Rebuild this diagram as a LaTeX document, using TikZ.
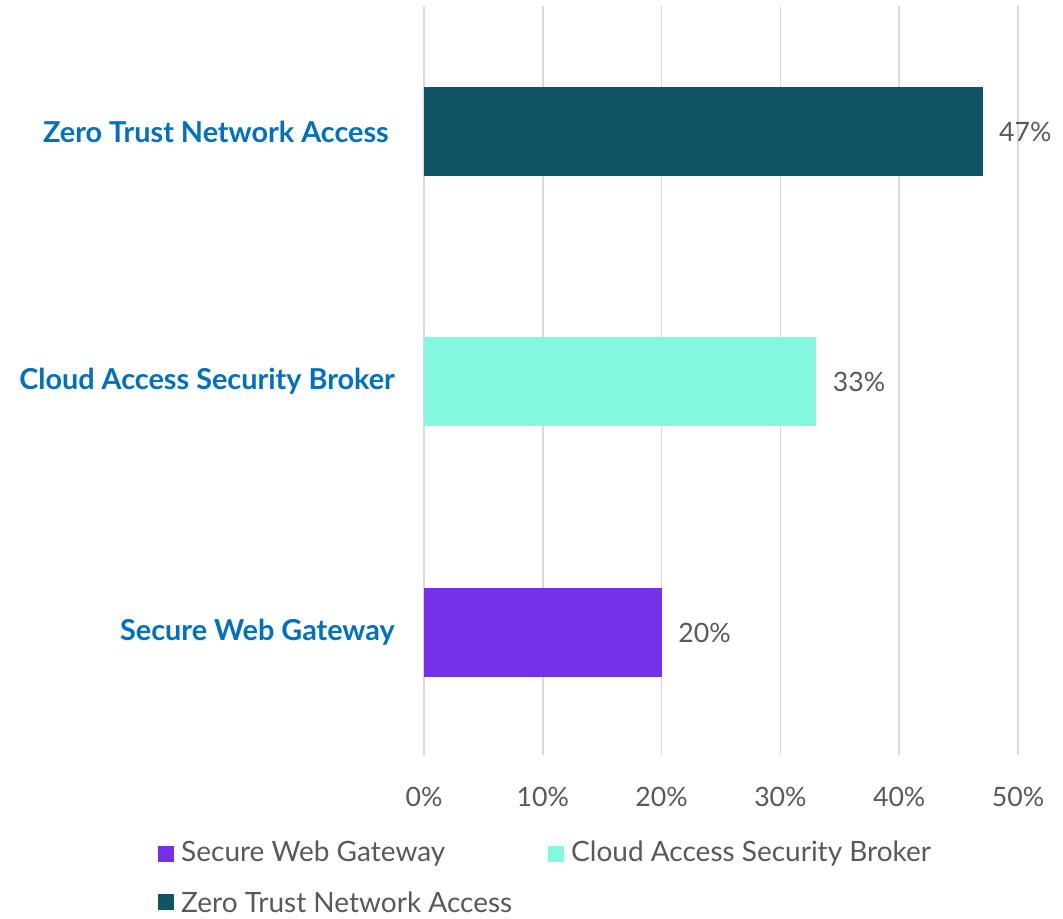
\documentclass[tikz,border=0pt]{standalone}
\usepackage{fontspec}
\setmainfont{Lato}
\usepackage{tikz}
\usetikzlibrary{positioning}
\definecolor{ztnateal}{HTML}{105566}
\definecolor{casbaqua}{HTML}{84F7E1}
\definecolor{swgpurple}{HTML}{7630EA}
\definecolor{catblue}{HTML}{0070C0}
\definecolor{gridgrey}{HTML}{D9D9D9}
\definecolor{textgrey}{HTML}{595959}

\begin{document}
\begin{tikzpicture}[
    x=0.75pt,y=-0.75pt,
    plaintext/.style={font=\fontsize{20}{24}\selectfont,text=textgrey,
      inner sep=0pt},
    keytext/.style={plaintext,font=\fontsize{21}{25}\selectfont,anchor=west},
    catlabel/.style={font=\fontsize{21.6}{25}\selectfont\bfseries,
      text=catblue,anchor=east,inner sep=0pt},
    barbox/.style={anchor=west,minimum height=66.75pt,inner sep=0pt},
    keybox/.style={minimum size=12pt,inner sep=0pt}
  ]
    \useasboundingbox (0,0) rectangle (1063,918);
    % vertical grid and percent scale
    \foreach \p/\pct in {0/0,1/10,2/20,3/30,4/40,5/50} {
      \draw[gridgrey,line width=1.2pt] ({424+118.8*\p},6) -- ({424+118.8*\p},755);
      \node[plaintext] (tick\p) at ({424+118.8*\p},797) {\pct\%};
    }
    % bars with category and value labels
    \foreach \name/\val/\yc/\xr/\col/\txt in {
        ztna/47/131.5/389/ztnateal/Zero Trust Network Access,
        casb/33/381.5/395/casbaqua/Cloud Access Security Broker,
        swg/20/632.5/395/swgpurple/Secure Web Gateway} {
      \pgfmathsetmacro{\barw}{11.88*\val*0.75}
      \node[barbox,fill=\col,minimum width=\barw pt] (bar\name) at (424,\yc) {};
      \node[plaintext,anchor=west,right=12pt of bar\name] (val\name) {\val\%};
      \node[catlabel] (cat\name) at (\xr,\yc) {\txt};
    }
    % legend
    \node[keybox,fill=swgpurple] (keyswg) at (166,854) {};
    \node[keytext,right=5pt of keyswg] (keyswgtext) {Secure Web Gateway};
    \node[keybox,fill=casbaqua] (keycasb) at (556,854) {};
    \node[keytext,right=5pt of keycasb] (keycasbtext) {Cloud Access Security Broker};
    \node[keybox,fill=ztnateal] (keyztna) at (166,902) {};
    \node[keytext,right=5pt of keyztna] (keyztnatext) {Zero Trust Network Access};
  \end{tikzpicture}
\end{document}
